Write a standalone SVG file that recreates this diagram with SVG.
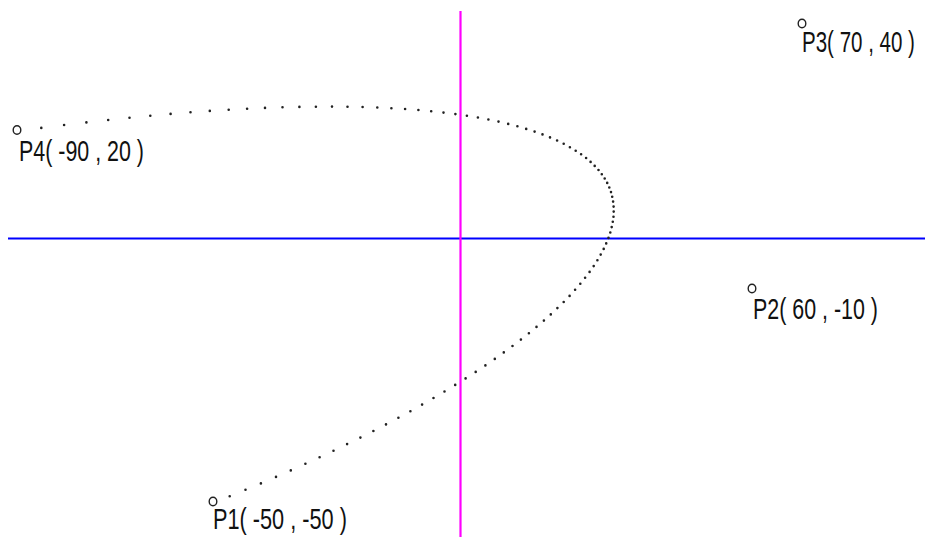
<svg xmlns="http://www.w3.org/2000/svg" width="925" height="537" viewBox="0 0 925 537">
<style>
.lbl{font-family:"Liberation Sans",Arial,sans-serif;font-size:29px;fill:#111;}
.cp{fill:none;stroke:#222;stroke-width:1.4;}
.dots{fill:none;stroke:#222;stroke-width:2.6;stroke-linecap:round;}
</style>
<rect width="925" height="537" fill="#fff"/>
<g id="axes">
<line x1="8" y1="238.5" x2="925" y2="238.5" stroke="#0000ff" stroke-width="2.2"/>
<line x1="460.5" y1="11" x2="460.5" y2="537" stroke="#ff00ff" stroke-width="2.2"/>
</g>
<g id="curve" transform="translate(1,1)">
<path class="dots" d="M228.7 495.3h0M244.5 488.8h0M259.9 482.4h0M275 475.9h0M289.8 469.4h0M304.4 462.8h0M318.6 456.3h0M332.5 449.7h0M346.1 443.1h0M359.4 436.6h0M372.4 430h0M385 423.4h0M397.4 416.8h0M409.4 410.2h0M421.1 403.6h0M432.5 397h0M443.5 390.5h0M454.2 383.9h0M464.6 377.4h0M474.7 370.9h0M484.4 364.4h0M493.8 357.9h0M502.8 351.4h0M511.5 345h0M519.9 338.6h0M527.9 332.2h0M535.5 325.9h0M542.9 319.6h0M549.8 313.4h0M556.4 307.1h0M562.7 301h0M568.6 294.9h0M574.1 288.8h0M579.3 282.8h0M584.1 276.8h0M588.6 270.9h0M592.7 265.1h0M596.4 259.3h0M599.7 253.6h0M602.7 247.9h0M605.2 242.4h0M607.5 236.9h0M609.3 231.5h0M610.7 226.1h0M611.8 220.8h0M612.5 215.7h0M612.7 210.6h0M612.6 205.6h0M612.1 200.6h0M611.2 195.8h0M610 191.1h0M608.3 186.5h0M606.2 181.9h0M603.7 177.5h0M600.8 173.2h0M597.5 169h0M593.7 164.9h0M589.6 160.9h0M585.1 157h0M580.1 153.3h0M574.7 149.7h0M568.9 146.2h0M562.7 142.8h0M556.1 139.5h0M549 136.4h0M541.5 133.4h0M533.6 130.6h0M525.2 127.9h0M516.4 125.3h0M507.2 122.9h0M497.5 120.6h0M487.4 118.5h0M476.9 116.5h0M465.9 114.7h0M454.4 113.1h0M442.5 111.6h0M430.2 110.2h0M417.4 109h0M404.1 108h0M390.4 107.2h0M376.3 106.5h0M361.6 106h0M346.5 105.7h0M331 105.6h0M314.9 105.7h0M298.4 105.9h0M281.5 106.3h0M264 106.9h0M246.1 107.7h0M227.7 108.7h0M208.8 109.9h0M189.5 111.3h0M169.6 112.9h0M149.3 114.7h0M128.5 116.7h0M107.2 119h0M85.4 121.4h0M63.1 124h0M40.3 126.9h0"/>
</g>
<g id="P1">
<ellipse class="cp" cx="213" cy="501.5" rx="3.8" ry="4.3"/>
<text class="lbl" transform="translate(213,529) scale(0.749,1)">P1( -50 , -50 )</text>
</g>
<g id="P2">
<ellipse class="cp" cx="752" cy="288.5" rx="3.8" ry="4.3"/>
<text class="lbl" transform="translate(753,319) scale(0.739,1)">P2( 60 , -10 )</text>
</g>
<g id="P3">
<ellipse class="cp" cx="802" cy="23.5" rx="3.8" ry="4.3"/>
<text class="lbl" transform="translate(802,52) scale(0.708,1)">P3( 70 , 40 )</text>
</g>
<g id="P4">
<ellipse class="cp" cx="17" cy="130" rx="3.8" ry="4.3"/>
<text class="lbl" transform="translate(19,160.5) scale(0.739,1)">P4( -90 , 20 )</text>
</g>
</svg>
